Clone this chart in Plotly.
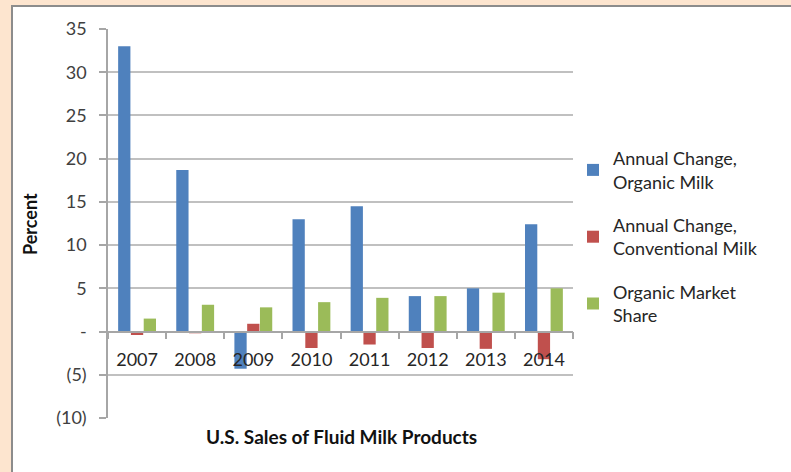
import plotly.graph_objects as go

years = ["2007", "2008", "2009", "2010", "2011", "2012", "2013", "2014"]
organic_change = [33.0, 18.7, -4.3, 13.0, 14.5, 4.1, 5.0, 12.4]
conventional_change = [-0.4, -0.2, 0.9, -1.9, -1.5, -1.9, -2.0, -3.2]
organic_share = [1.5, 3.1, 2.8, 3.4, 3.9, 4.1, 4.5, 5.0]

y_tickvals = [-10, -5, 0, 5, 10, 15, 20, 25, 30, 35]
y_ticktext = ["(10)", "(5)", "-", "5", "10", "15", "20", "25", "30", "35"]

series_names = ["Annual Change,<br>Organic Milk",
                "Annual Change,<br>Conventional Milk",
                "Organic Market<br>Share"]
colors = ["#4f81bd", "#c0504d", "#9bbb59"]

W, H = 791, 472
L, R, T, B = 108, 218, 29, 54
pw, ph = W - L - R, H - T - B


def px_x(x):
    return (x - L) / pw


def px_y(y):
    return (H - B - y) / ph


FONT = "Lato"
fig = go.Figure()
for i, vals in enumerate([organic_change, conventional_change, organic_share]):
    fig.add_trace(go.Bar(x=years, y=vals, name=series_names[i],
                         marker=dict(color=colors[i], line=dict(width=0)),
                         legendgroup=str(i)))

ymin, ymax = -10, 35
zero_pos = (0 - ymin) / (ymax - ymin)

fig.update_layout(
    width=W, height=H,
    margin=dict(l=L, r=R, t=T, b=B),
    paper_bgcolor="#fde5cf",
    plot_bgcolor="white",
    barmode="group",
    bargap=0.34,
    bargroupgap=0.04,
    font=dict(family=FONT, size=18, color="#404040"),
    showlegend=True,
    legend=dict(x=px_x(573), y=px_y(140), xanchor="left", yanchor="top",
                font=dict(family=FONT, size=18, color="#262626"),
                bgcolor="rgba(0,0,0,0)", tracegroupgap=17,
                itemwidth=30),
    xaxis=dict(type="category", anchor="free", position=zero_pos,
               showline=True, linecolor="#a6a6a6", linewidth=1.5,
               ticks="outside", tickson="boundaries", ticklen=7,
               tickcolor="#a6a6a6", tickwidth=1.5,
               ticklabelstandoff=12,
               tickfont=dict(family=FONT, size=18, color="#262626"),
               showgrid=False, zeroline=False),
    yaxis=dict(range=[ymin, ymax], tickvals=y_tickvals, ticktext=y_ticktext,
               showline=True, linecolor="#a6a6a6", linewidth=1.5,
               ticks="outside", ticklen=7, tickcolor="#a6a6a6", tickwidth=1.5,
               ticklabelstandoff=9,
               showgrid=True, gridcolor="#c0c0c0", gridwidth=1.5,
               zeroline=False,
               tickfont=dict(family=FONT, size=18, color="#404040")),
    shapes=[dict(type="rect", xref="paper", yref="paper",
                 x0=px_x(12), x1=px_x(796), y0=px_y(478), y1=px_y(6),
                 fillcolor="white", line=dict(color="#8c8c8c", width=2),
                 layer="below")],
    annotations=[
        dict(text="<b>Percent</b>", xref="paper", yref="paper",
             x=px_x(30), y=px_y(224), textangle=-90, showarrow=False,
             xanchor="center", yanchor="middle",
             font=dict(family=FONT, size=18, color="#111111")),
        dict(text="<b>U.S. Sales of Fluid Milk Products</b>", xref="paper",
             yref="paper", x=px_x(341), y=px_y(436), showarrow=False,
             xanchor="center", yanchor="middle",
             font=dict(family=FONT, size=19, color="#111111")),
    ],
)

fig.write_html(
    "out.html",
    config={"displayModeBar": False},
    post_script="document.body.style.margin='0';"
                "document.body.style.background='#fde5cf';",
)
